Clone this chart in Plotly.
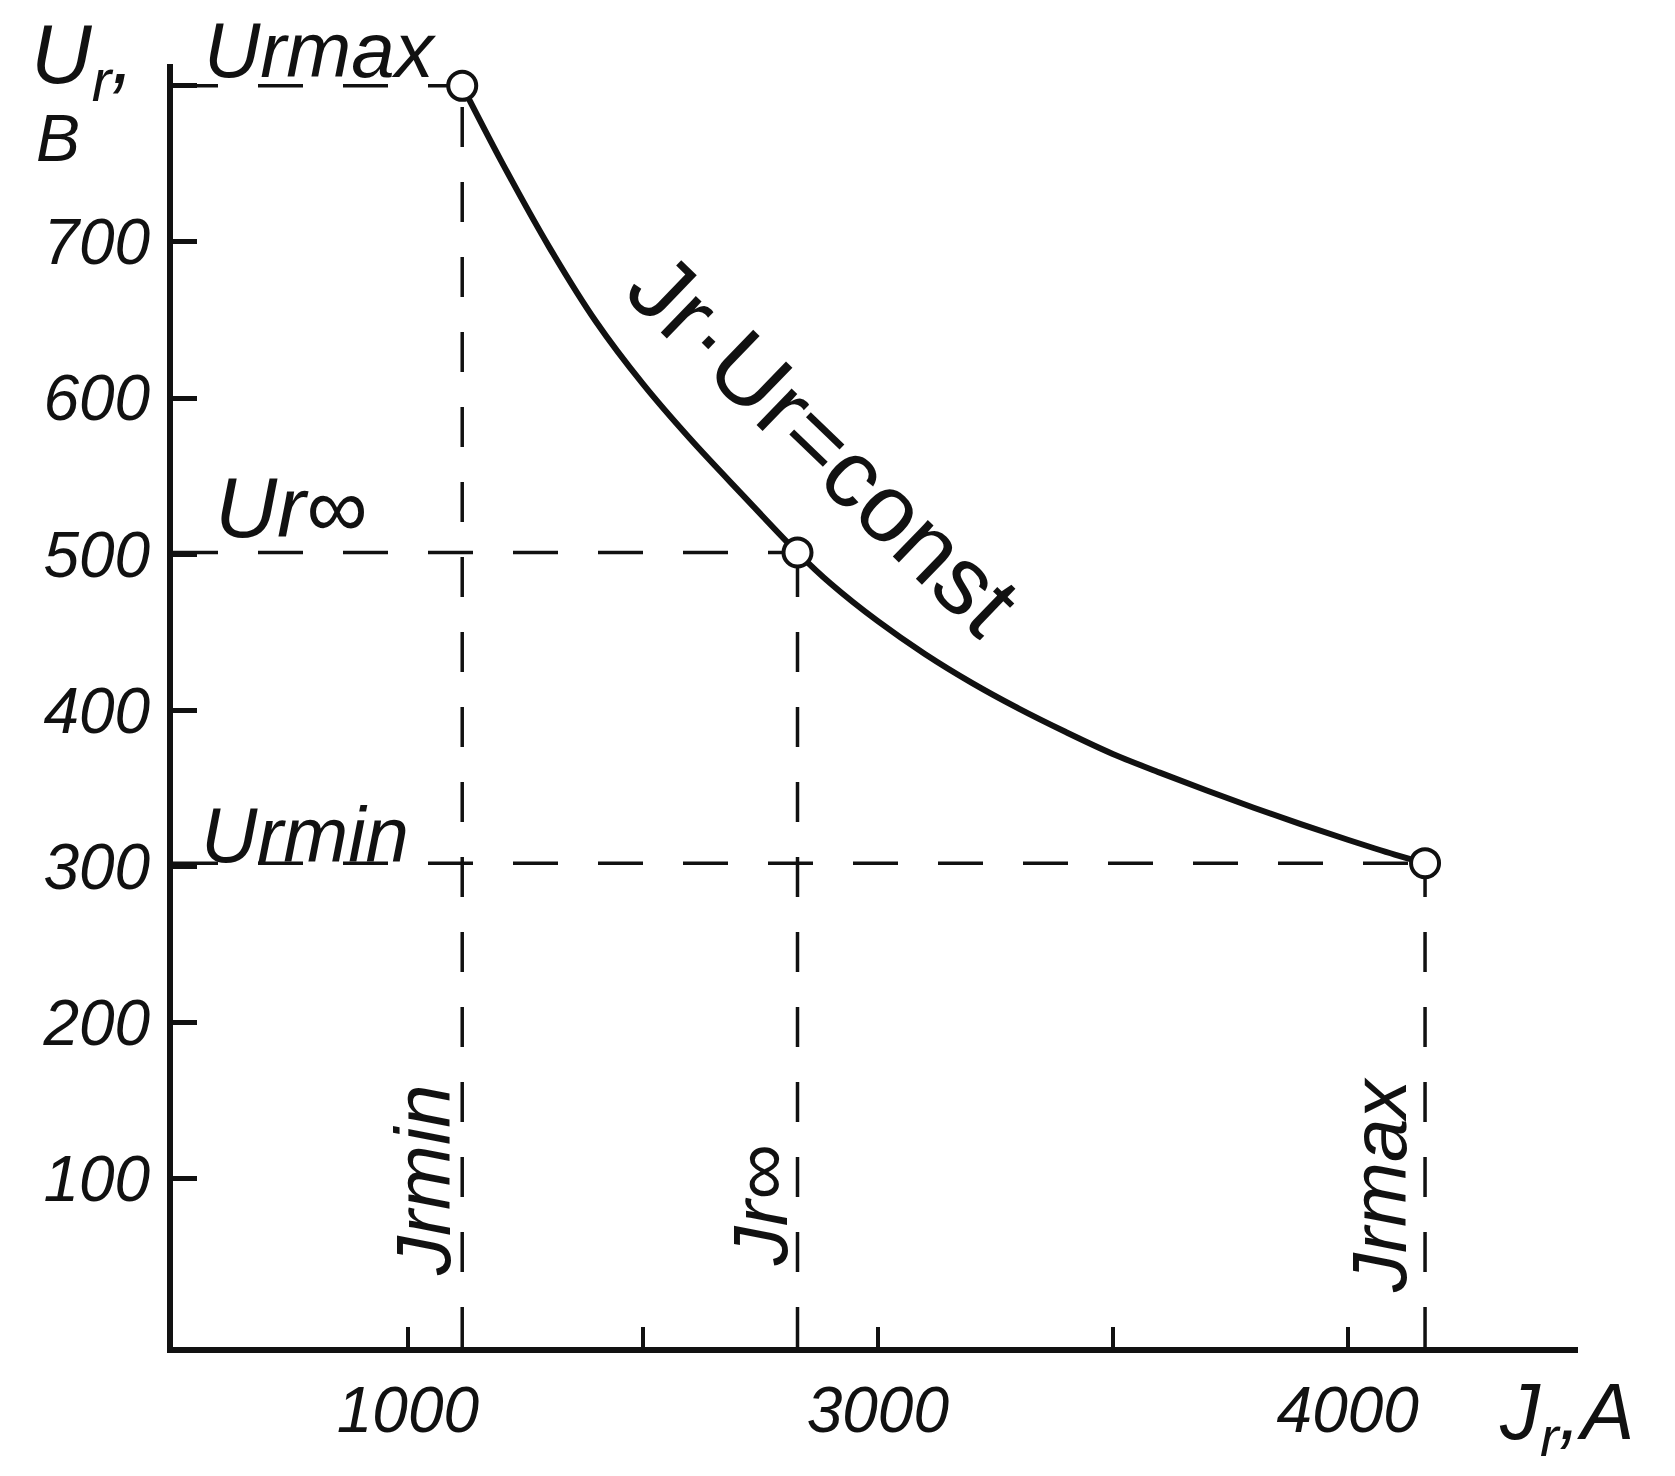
import plotly.graph_objects as go

# ---- data ----
curve_I = [1231, 1400, 1600, 1800, 2000, 2200, 2430, 2658,
           2800, 3000, 3200, 3400, 3600, 3800, 4000, 4200, 4400, 4600, 4800, 5000, 5200, 5329]
curve_U = [800, 751, 697, 649, 609, 574, 537, 501,
           481, 457, 436, 417.5, 401, 386, 372, 360, 348.5, 337.5, 327, 317, 307.5, 302]

key_names_U = ["Urmax", "Ur∞", "Urmin"]
key_names_I = ["Jrmin", "Jr∞", "Jrmax"]
key_I = [1231, 2658, 5329]
key_U = [800, 501, 302]

y_tick_vals = [100, 200, 300, 400, 500, 600, 700, 800]
y_tick_text = ["100", "200", "300", "400", "500", "600", "700", ""]
x_tick_vals = [1000, 2000, 3000, 4000, 5000, 5980]
x_tick_text = ["1000", "", "3000", "", "4000", ""]

curve_label = "Jr·Ur=const"
y_title = ["U<sub>r</sub>,", "В"]
x_title = "J<sub>r</sub>,A"

FONT = "Liberation Sans, Arial, sans-serif"
BLACK = "#111111"

fig = go.Figure()

# dashed guide lines
for xi, ui in zip(key_I, key_U):
    fig.add_trace(go.Scatter(x=[0, xi], y=[ui, ui], mode="lines",
                             line=dict(color=BLACK, width=3.5, dash="45px,40px"),
                             hoverinfo="skip", showlegend=False))
    fig.add_trace(go.Scatter(x=[xi, xi], y=[-8, ui], mode="lines",
                             line=dict(color=BLACK, width=3.5, dash="40px,35px"),
                             hoverinfo="skip", showlegend=False))

# main curve
fig.add_trace(go.Scatter(x=curve_I, y=curve_U, mode="lines",
                         line=dict(color=BLACK, width=6, shape="spline", smoothing=1.0),
                         showlegend=False))
# key points
fig.add_trace(go.Scatter(x=key_I, y=key_U, mode="markers",
                         marker=dict(symbol="circle", size=28, color="white",
                                     line=dict(color=BLACK, width=4)),
                         showlegend=False))

def f(size, italic=True):
    d = dict(family=FONT, size=size, color=BLACK)
    if italic:
        d["style"] = "italic"
    return d

def ann(x, y, text, font, angle=0, paper=False):
    kw = dict(x=x, y=y, text=text, showarrow=False, font=font, textangle=angle,
              xanchor="center", yanchor="middle")
    if paper:
        kw.update(xref="paper", yref="paper")
    fig.add_annotation(**kw)

# point labels
ann(0.105, 1.011, key_names_U[0], f(78), paper=True)
ann(502, 530, key_names_U[1], f(86))
ann(562, 320, key_names_U[2], f(78))
ann(1064, 99, key_names_I[0], f(78), -90)
ann(2500, 83, key_names_I[1], f(78), -90)
ann(5130, 96, key_names_I[2], f(78), -90)
ann(2771, 571, curve_label, f(96, italic=False), 44)

# axis titles
ann(-0.064, 1.003, y_title[0], f(84), paper=True)
ann(-0.082, 0.942, y_title[1], f(66), paper=True)
ann(0.992, -0.055, x_title, f(80), paper=True)

tickfont = f(64)

fig.update_layout(
    width=1675, height=1476,
    margin=dict(l=173, r=97, t=64, b=129),
    plot_bgcolor="white", paper_bgcolor="white",
    xaxis=dict(range=[0, 5980], showgrid=False, zeroline=False,
               showline=True, linecolor=BLACK, linewidth=6,
               ticks="inside", ticklen=20, tickwidth=4, tickcolor=BLACK,
               tickvals=x_tick_vals, ticktext=x_tick_text, tickfont=tickfont,
               ticklabelstandoff=2),
    yaxis=dict(range=[-8, 814], showgrid=False, zeroline=False,
               showline=True, linecolor=BLACK, linewidth=6,
               ticks="inside", ticklen=24, tickwidth=5, tickcolor=BLACK,
               tickvals=y_tick_vals, ticktext=y_tick_text, tickfont=tickfont,
               ticklabelstandoff=4),
)

fig.write_html("out.html")
